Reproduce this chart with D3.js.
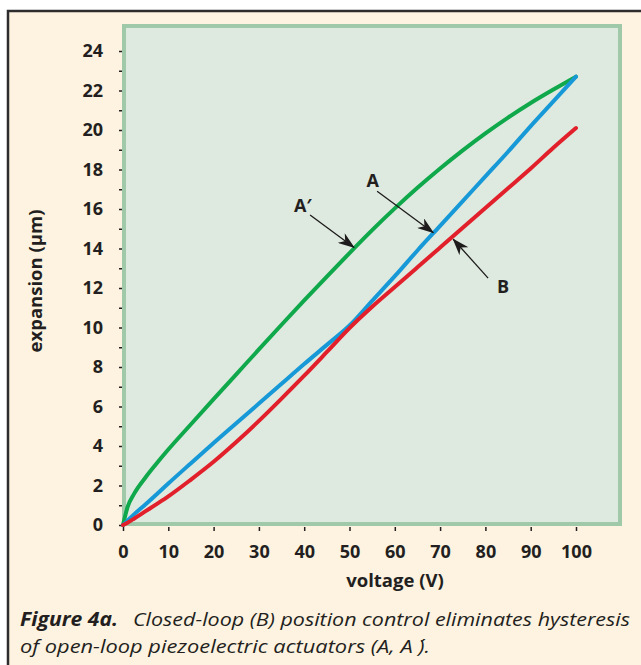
<!DOCTYPE html>
<meta charset="utf-8">
<script src="https://d3js.org/d3.v7.min.js"></script>
<style>
  body { margin: 0; background: #fff; }
  text { font-family: "Open Sans", "Noto Sans", sans-serif; fill: #231f20; }
</style>
<div id="chart"></div>
<script>

// values (voltage in V, expansion in µm)
var voltage = [0, 1, 2.5, 5, 7.5, 10, 15, 20, 25, 30, 35, 40, 45, 50, 55, 60, 65, 70, 75, 80, 85, 90, 95, 100];
var openLoopDown = [0, 0.9, 1.6, 2.42, 3.14, 3.82, 5.1, 6.37, 7.63, 8.89, 10.14, 11.37, 12.58, 13.77, 14.93, 16.03, 17.07, 18.05, 18.97, 19.83, 20.63, 21.37, 22.05, 22.7]; // A'
var openLoopUp = [0, 0.22, 0.55, 1.05, 1.57, 2.1, 3.13, 4.15, 5.15, 6.15, 7.15, 8.15, 9.12, 10.1, 11.35, 12.6, 13.9, 15.15, 16.4, 17.65, 18.9, 20.2, 21.45, 22.7]; // A
var closedLoop = [0, 0.12, 0.33, 0.7, 1.07, 1.45, 2.3, 3.2, 4.2, 5.27, 6.4, 7.56, 8.76, 9.97, 11.05, 12.05, 13.05, 14.05, 15.05, 16.05, 17.05, 18.05, 19.1, 20.1]; // B

var xTicks = [0, 10, 20, 30, 40, 50, 60, 70, 80, 90, 100];
var yTicks = d3.range(0, 25, 1);   // minor every 1, labels on even values

// annotation labels and arrows, in data units
var labels = [
  {text: "A\u2032", x: 39.7, y: 15.85, fromX: 41.3, fromY: 15.7, toX: 51.0, toY: 14.05},
  {text: "A", x: 55.1, y: 17.1, fromX: 56.1, fromY: 16.9, toX: 68.5, toY: 14.8},
  {text: "B", x: 83.9, y: 11.75, fromX: 80.6, fromY: 12.5, toX: 72.9, toY: 14.47}
];

var series = [
  {name: "A'", values: openLoopDown, color: "#0fa84b"},
  {name: "A", values: openLoopUp, color: "#1799d8"},
  {name: "B", values: closedLoop, color: "#e2202b"}
];

var W = 641, H = 665;

var svg = d3.select("#chart")
  .append("svg")
    .attr("width", W)
    .attr("height", H);

// cream panel with dark frame
svg.append("rect")
  .attr("x", 8).attr("y", 11)
  .attr("width", 700).attr("height", 700)
  .attr("fill", "#fdf3e0")
  .attr("stroke", "#2e2c2c")
  .attr("stroke-width", 2.5);

// plot box
svg.append("rect")
  .attr("x", 124).attr("y", 26)
  .attr("width", 496).attr("height", 498)
  .attr("fill", "#deeadf")
  .attr("stroke", "#9fc9a9")
  .attr("stroke-width", 4);

var x = d3.scaleLinear().domain([0, 100]).range([123, 576]);
var y = d3.scaleLinear().domain([0, 24]).range([525, 51]);

// y axis
var yAxis = svg.append("g")
  .attr("transform", "translate(122,0)")
  .call(d3.axisLeft(y)
    .tickValues(yTicks)
    .tickSize(3)
    .tickPadding(16)
    .tickFormat(function(d) { return d % 2 == 0 ? d : ""; }));
yAxis.select(".domain").remove();
yAxis.selectAll("line").attr("stroke", "#231f20").attr("stroke-width", 1.5);
yAxis.selectAll("text")
  .attr("font-size", "18px")
  .attr("font-weight", "bold")
  .attr("fill", "#231f20");

// x axis
var xAxis = svg.append("g")
  .attr("transform", "translate(0,527)")
  .call(d3.axisBottom(x)
    .tickValues(xTicks)
    .tickSize(4)
    .tickPadding(14));
xAxis.select(".domain").remove();
xAxis.selectAll("line").attr("stroke", "#231f20").attr("stroke-width", 1.5);
xAxis.selectAll("text")
  .attr("font-size", "18px")
  .attr("font-weight", "bold")
  .attr("fill", "#231f20");

// axis titles
svg.append("text")
  .attr("x", 395)
  .attr("y", 587)
  .attr("text-anchor", "middle")
  .attr("font-size", "18.5px")
  .attr("font-weight", "bold")
  .text("voltage (V)");

svg.append("text")
  .attr("transform", "translate(42,281) rotate(-90)")
  .attr("text-anchor", "middle")
  .attr("font-size", "18.5px")
  .attr("font-weight", "bold")
  .text("expansion (\u00b5m)");

// curves
var line = d3.line()
  .x(function(d) { return x(d[0]); })
  .y(function(d) { return y(d[1]); })
  .curve(d3.curveMonotoneX);

series.forEach(function(s) {
  svg.append("path")
    .datum(voltage.map(function(v, i) { return [v, s.values[i]]; }))
    .attr("fill", "none")
    .attr("stroke", s.color)
    .attr("stroke-width", 4)
    .attr("stroke-linecap", "round")
    .attr("d", line);
});

// arrowhead
svg.append("defs").append("marker")
  .attr("id", "arrow")
  .attr("markerUnits", "userSpaceOnUse")
  .attr("viewBox", "0 0 17 12")
  .attr("markerWidth", 17)
  .attr("markerHeight", 12)
  .attr("refX", 16)
  .attr("refY", 6)
  .attr("orient", "auto")
  .append("path")
    .attr("d", "M0,0 L17,6 L0,12 L5,6 Z")
    .attr("fill", "#1d1b1b");

svg.selectAll(".arrow")
  .data(labels)
  .enter().append("line")
    .attr("class", "arrow")
    .attr("x1", function(d) { return x(d.fromX); })
    .attr("y1", function(d) { return y(d.fromY); })
    .attr("x2", function(d) { return x(d.toX); })
    .attr("y2", function(d) { return y(d.toY); })
    .attr("stroke", "#1d1b1b")
    .attr("stroke-width", 1.3)
    .attr("marker-end", "url(#arrow)");

svg.selectAll(".lbl")
  .data(labels)
  .enter().append("text")
    .attr("class", "lbl")
    .attr("x", function(d) { return x(d.x); })
    .attr("y", function(d) { return y(d.y); })
    .attr("text-anchor", "middle")
    .attr("font-size", "18px")
    .attr("font-weight", "bold")
    .text(function(d) { return d.text; });

// caption
svg.append("text")
  .attr("x", 20).attr("y", 626)
  .attr("font-size", "19px")
  .attr("font-weight", "bold")
  .attr("font-style", "italic")
  .attr("textLength", 98)
  .attr("lengthAdjust", "spacingAndGlyphs")
  .text("Figure 4a.");

svg.append("text")
  .attr("x", 133).attr("y", 626)
  .attr("font-size", "19px")
  .attr("font-style", "italic")
  .attr("textLength", 497)
  .attr("lengthAdjust", "spacingAndGlyphs")
  .text("Closed-loop (B) position control eliminates hysteresis");

svg.append("text")
  .attr("x", 20).attr("y", 653)
  .attr("font-size", "19px")
  .attr("font-style", "italic")
  .attr("textLength", 410)
  .attr("lengthAdjust", "spacingAndGlyphs")
  .text("of open-loop piezoelectric actuators (A, A \u00b4).");

</script>
